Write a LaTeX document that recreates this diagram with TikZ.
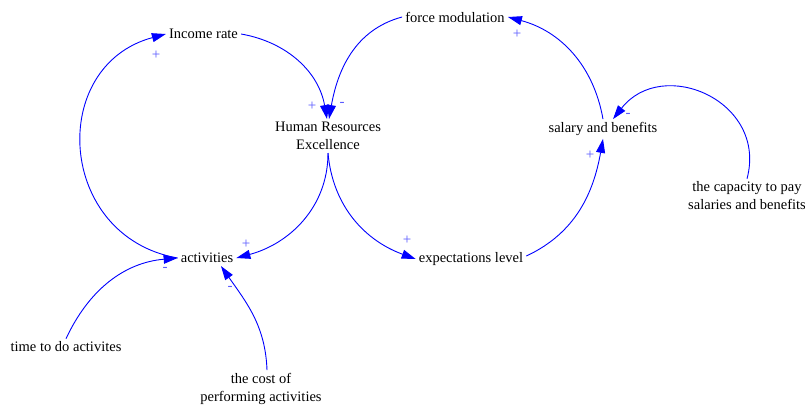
\documentclass[tikz,border=0pt]{standalone}
\usepackage{fontspec}
\setmainfont{Liberation Serif}
\usetikzlibrary{arrows.meta}
\definecolor{linkblue}{RGB}{0,0,255}
\definecolor{signblue}{RGB}{90,90,255}
\begin{document}
\begin{tikzpicture}[x=1pt,y=1pt,
  var/.style={inner sep=3pt, align=center, font=\fontsize{14.5}{18}\selectfont, text=black},
  link/.style={draw=linkblue, line width=0.9pt, -{Triangle[length=14pt,width=9pt]}},
  sign/.style={text=signblue, font=\fontsize{15}{15}\selectfont, inner sep=0pt}]
\useasboundingbox (0,0) rectangle (805,-408);

\node[var] (inc) at (203.5,-34) {Income rate};
\node[var] (fm) at (455,-17) {force modulation};
\node[var] (hre) at (328,-136) {Human Resources\\Excellence};
\node[var] (sal) at (603,-129) {salary and benefits};
\node[var] (cap) at (747,-196) {the capacity to pay\\salaries and benefits};
\node[var] (act) at (207,-258) {activities};
\node[var] (exp) at (471,-259) {expectations level};
\node[var] (time) at (66,-347) {time to do activites};
\node[var] (cost) at (261,-389) {the cost of\\performing activities};

\draw[link] (act.west) to[out=170,in=195,looseness=1.4] (inc.west);
\draw[link] (inc.east) to[out=-10,in=100] ([xshift=-1pt]hre.north);
\draw[link] (fm.west) to[out=195,in=80] ([xshift=1pt]hre.north);
\draw[link] (hre.south) to[out=-90,in=15] (act.east);
\draw[link] (hre.south) to[out=-85,in=160] (exp.west);
\draw[link] ([yshift=3pt]exp.east) to[out=25,in=-100] (sal.south);
\draw[link] (sal.north) to[out=100,in=-15] (fm.east);
\draw[link] (cap.north) to[out=75,in=52,looseness=1.4] ([xshift=10pt]sal.north);
\draw[link] (time.north) to[out=65,in=185] (act.west);
\draw[link] ([xshift=6pt]cost.north) to[out=92,in=-55] (act.-30);

\node[sign] (s1) at (156,-55) {+};
\node[sign] (s2) at (312,-106) {+};
\node[sign] (s3) at (342,-104) {-};
\node[sign] (s4) at (246,-244) {+};
\node[sign] (s5) at (407,-240) {+};
\node[sign] (s6) at (590,-155) {+};
\node[sign] (s7) at (517,-34) {+};
\node[sign] (s8) at (628,-115) {-};
\node[sign] (s9) at (165,-269) {-};
\node[sign] (s10) at (230,-288) {-};
\end{tikzpicture}
\end{document}
